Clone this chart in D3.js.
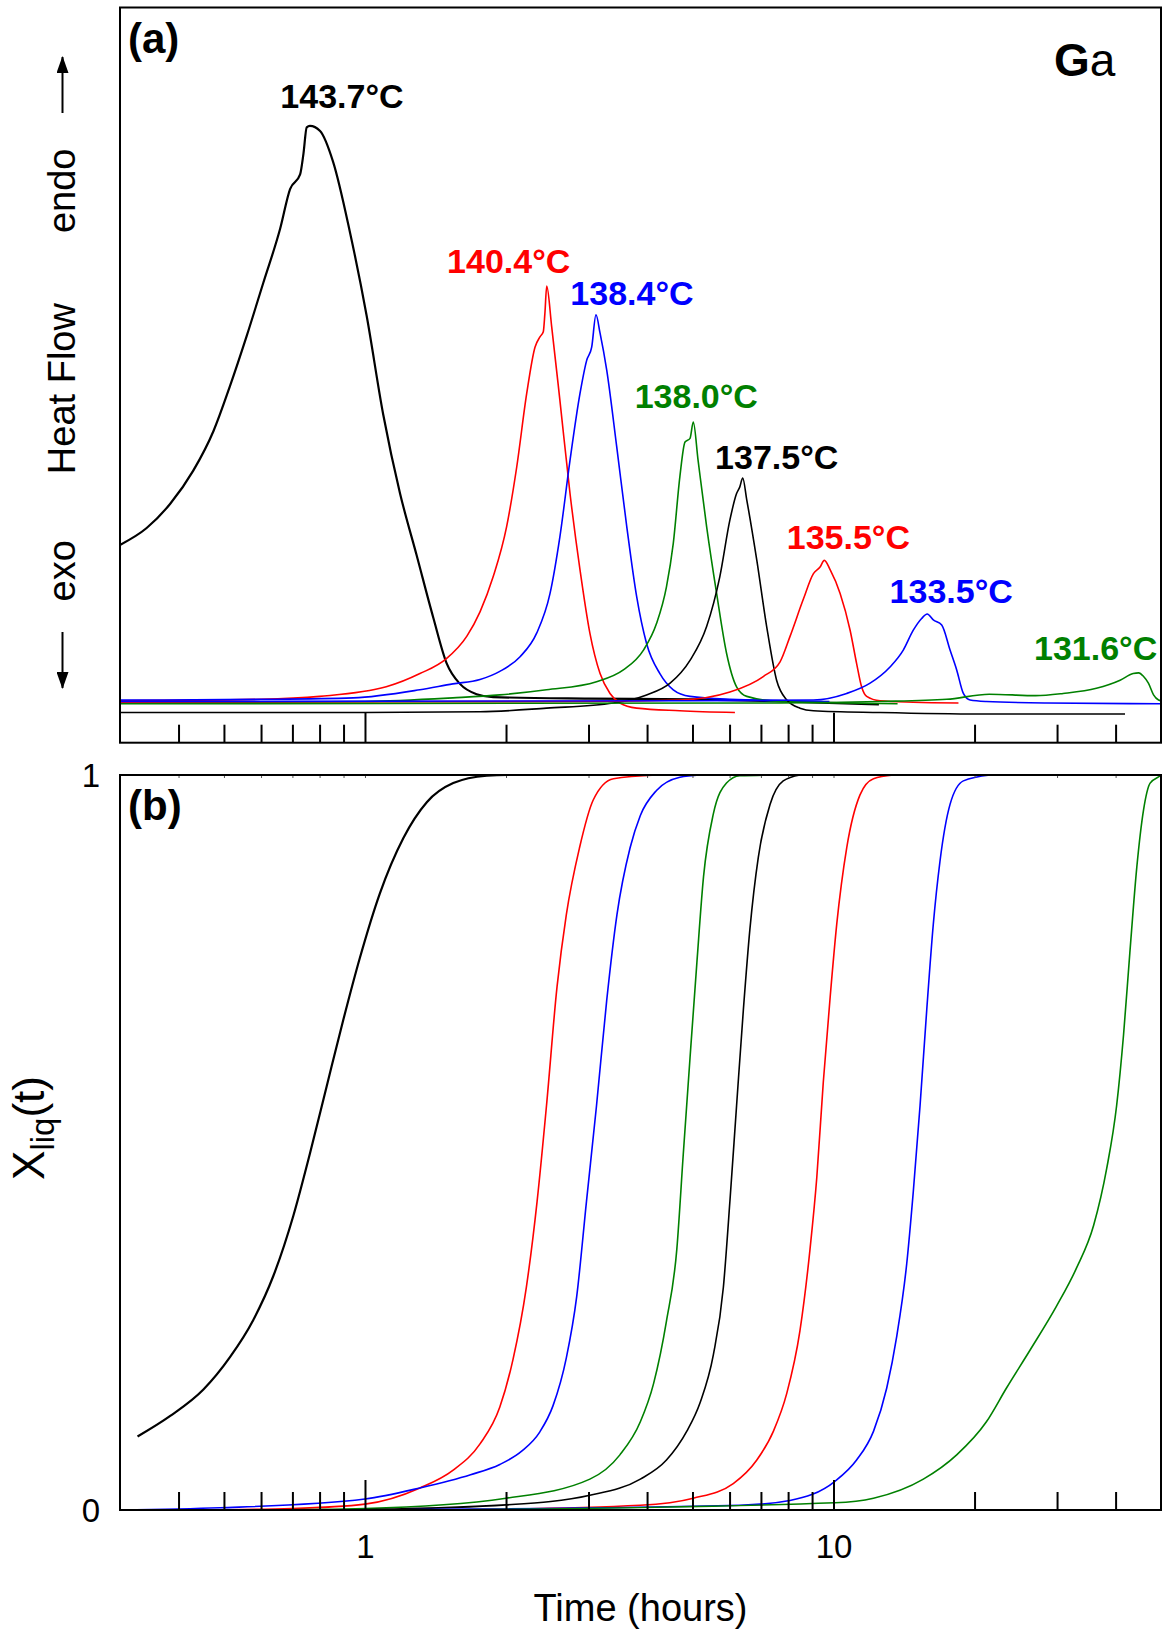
<!DOCTYPE html>
<html>
<head>
<meta charset="utf-8">
<script src="https://d3js.org/d3.v7.min.js"></script>
<style>
  body { margin: 0; background: #fff; }
  svg { display: block; font-family: "Liberation Sans", Arial, sans-serif; }
</style>
</head>
<body>
<div id="chart"></div>
<script>
// Heat flow traces, panel (a): [time in hours, heat flow (arb. units)]
var hf1437 = [[0.30, 26.9], [0.342, 29.2], [0.384, 32.5], [0.430, 37.0], [0.475, 42.4], [0.515, 48.5], [0.559, 55.3], [0.607, 62.6], [0.659, 69.9], [0.692, 75.3], [0.727, 77.3], [0.739, 80.1], [0.751, 83.7], [0.763, 83.9], [0.802, 83.2], [0.855, 79.0], [0.929, 69.4], [1.008, 58.1], [1.094, 44.6], [1.188, 33.9], [1.289, 25.5], [1.399, 17.0], [1.494, 10.8], [1.595, 8.0], [1.731, 6.6], [1.878, 6.2], [3.0, 6.0], [5.0, 5.9], [8.0, 5.6], [12.5, 5.2]];
var hf1404 = [[0.30, 5.7], [0.60, 5.9], [0.80, 6.3], [1.11, 7.6], [1.31, 9.4], [1.49, 11.4], [1.65, 14.5], [1.76, 17.8], [1.878, 22.6], [2.006, 29.4], [2.108, 37.5], [2.214, 47.5], [2.306, 53.8], [2.363, 55.2], [2.402, 55.9], [2.421, 58.4], [2.443, 62.1], [2.503, 56.6], [2.606, 46.6], [2.739, 33.9], [2.877, 23.5], [3.02, 14.9], [3.175, 9.4], [3.334, 6.7], [3.50, 5.4], [3.80, 4.7], [4.70, 4.35], [6.16, 4.1]];
var hf1384 = [[0.30, 5.8], [0.60, 5.9], [0.944, 6.1], [1.31, 7.2], [1.54, 8.0], [1.76, 8.6], [1.94, 9.7], [2.143, 11.7], [2.325, 14.9], [2.483, 20.3], [2.606, 28.0], [2.739, 38.4], [2.877, 47.5], [2.973, 52.0], [3.047, 53.8], [3.112, 58.2], [3.175, 55.7], [3.28, 50.7], [3.445, 40.3], [3.62, 29.4], [3.80, 19.9], [3.99, 13.5], [4.26, 9.4], [4.55, 7.2], [4.94, 6.3], [6.01, 5.9], [9.8, 5.6]];
var hf1380 = [[0.30, 5.4], [1.0, 5.6], [1.54, 6.1], [1.94, 6.5], [2.44, 7.2], [3.12, 8.3], [3.56, 9.9], [3.93, 12.6], [4.19, 16.2], [4.40, 21.2], [4.55, 27.1], [4.70, 36.2], [4.82, 40.9], [4.94, 41.4], [5.02, 43.6], [5.14, 38.4], [5.36, 29.4], [5.63, 20.3], [5.91, 12.2], [6.21, 7.6], [6.53, 6.3], [7.69, 5.6], [13.7, 5.3]];
var hf1375 = [[0.30, 4.1], [1.0, 4.1], [1.76, 4.2], [2.44, 4.7], [3.39, 5.4], [3.99, 6.5], [4.48, 8.1], [4.94, 11.2], [5.36, 15.8], [5.72, 22.6], [6.01, 30.3], [6.21, 33.9], [6.31, 34.8], [6.40, 36.0], [6.53, 33.0], [6.86, 24.8], [7.20, 15.8], [7.56, 8.5], [7.95, 5.8], [8.48, 4.7], [9.06, 4.35], [12.57, 4.1], [20.5, 3.9], [41.9, 3.9]];
var hf1355 = [[0.30, 5.5], [3.0, 5.6], [4.70, 5.8], [6.01, 6.9], [7.08, 9.0], [7.69, 11.0], [8.08, 14.5], [8.62, 19.5], [9.06, 23.0], [9.36, 23.9], [9.56, 24.8], [9.84, 23.5], [10.33, 20.3], [10.85, 15.3], [11.20, 10.8], [11.48, 7.6], [11.77, 6.3], [12.57, 5.7], [14.80, 5.5], [18.48, 5.4]];
var hf1335 = [[0.30, 5.6], [5.0, 5.7], [9.06, 5.8], [10.67, 6.7], [11.97, 8.1], [13.2, 10.3], [14.09, 12.6], [14.80, 15.3], [15.42, 16.9], [15.85, 17.5], [16.33, 16.7], [17.02, 16.0], [17.73, 12.6], [18.32, 9.9], [18.93, 6.7], [19.56, 5.8], [21.2, 5.6], [28.5, 5.4], [50, 5.3]];
var hf1316 = [[0.30, 5.3], [7.69, 5.4], [12.57, 5.6], [17.44, 5.9], [21.5, 6.6], [27.0, 6.4], [30.9, 6.7], [36.4, 7.4], [40.9, 8.5], [43.6, 9.4], [44.8, 9.5], [45.9, 9.0], [47.0, 8.1], [48.2, 6.5], [49.4, 5.8], [50, 5.7]];

// Liquid fraction, panel (b): [time in hours, X_liq]
var xl1437 = [[0.327, 0.100], [0.384, 0.128], [0.452, 0.164], [0.515, 0.208], [0.578, 0.259], [0.637, 0.318], [0.703, 0.400], [0.763, 0.485], [0.828, 0.576], [0.899, 0.667], [0.975, 0.751], [1.076, 0.839], [1.207, 0.914], [1.355, 0.963], [1.543, 0.989], [1.82, 0.999], [2.01, 1.0], [2.5, 1.0]];
var xl1404 = [[0.43, 0.0], [0.70, 0.002], [1.0, 0.008], [1.31, 0.030], [1.54, 0.054], [1.76, 0.090], [1.94, 0.140], [2.07, 0.205], [2.21, 0.303], [2.33, 0.420], [2.44, 0.550], [2.57, 0.712], [2.69, 0.810], [2.87, 0.901], [3.07, 0.966], [3.39, 0.995], [4.19, 1.0]];
var xl1384 = [[0.30, 0.0], [0.49, 0.003], [1.0, 0.015], [1.31, 0.030], [1.68, 0.048], [1.94, 0.062], [2.16, 0.080], [2.36, 0.106], [2.52, 0.142], [2.69, 0.207], [2.83, 0.290], [2.97, 0.420], [3.12, 0.550], [3.28, 0.693], [3.45, 0.810], [3.68, 0.901], [3.87, 0.945], [4.19, 0.979], [4.70, 0.997], [5.19, 1.0]];
var xl1380 = [[0.585, 0.0], [1.0, 0.002], [2.0, 0.016], [3.02, 0.042], [3.50, 0.075], [3.87, 0.120], [4.13, 0.172], [4.40, 0.257], [4.63, 0.355], [4.78, 0.485], [4.94, 0.615], [5.11, 0.745], [5.28, 0.862], [5.54, 0.947], [5.91, 0.989], [6.31, 0.999], [7.32, 1.0]];
var xl1375 = [[0.9, 0.0], [2.0, 0.007], [3.02, 0.020], [3.87, 0.042], [4.40, 0.068], [4.86, 0.107], [5.19, 0.146], [5.54, 0.211], [5.82, 0.303], [6.01, 0.420], [6.21, 0.550], [6.42, 0.680], [6.63, 0.790], [6.91, 0.888], [7.32, 0.960], [7.81, 0.992], [8.48, 1.0]];
var xl1355 = [[1.5, 0.0], [3.87, 0.0065], [5.02, 0.016], [6.11, 0.036], [6.86, 0.068], [7.44, 0.107], [7.95, 0.159], [8.48, 0.244], [8.91, 0.355], [9.21, 0.452], [9.51, 0.582], [9.84, 0.699], [10.16, 0.797], [10.67, 0.901], [11.39, 0.973], [12.17, 0.995], [13.42, 1.0]];
var xl1335 = [[1.0, 0.0], [6.31, 0.0065], [8.07, 0.013], [10.07, 0.039], [11.2, 0.068], [12.17, 0.107], [12.99, 0.166], [13.65, 0.237], [14.33, 0.335], [14.80, 0.433], [15.30, 0.550], [15.81, 0.680], [16.33, 0.797], [16.87, 0.882], [17.73, 0.960], [18.93, 0.992], [21.6, 1.0]];
var xl1316 = [[1.5, 0.0], [10.07, 0.0098], [12.17, 0.016], [15.55, 0.042], [18.32, 0.075], [21.2, 0.120], [23.4, 0.166], [26.3, 0.218], [29.9, 0.277], [33.0, 0.329], [35.9, 0.387], [38.3, 0.465], [40.2, 0.550], [41.6, 0.647], [42.9, 0.758], [44.4, 0.875], [45.9, 0.953], [47.4, 0.989], [49.8, 0.999], [50, 1.0]];

var peakLabels = ["143.7°C", "140.4°C", "138.4°C", "138.0°C", "137.5°C", "135.5°C", "133.5°C", "131.6°C"];
var heatFlow = [hf1437, hf1404, hf1384, hf1380, hf1375, hf1355, hf1335, hf1316];
var fraction = [xl1437, xl1404, xl1384, xl1380, xl1375, xl1355, xl1335, xl1316];

// Log time axis ticks
var minorTicks = [0.4, 0.5, 0.6, 0.7, 0.8, 0.9, 2, 3, 4, 5, 6, 7, 8, 9, 20, 30, 40];
var majorTicks = [1, 10];
var majorTickLabels = ["1", "10"];
var fractionTicks = [0, 1];

document.addEventListener('DOMContentLoaded', function() {
  var W = 1163, H = 1635;
  var left = 120, right = 1161;
  var topA = 7.5, bottomA = 742.7;
  var topB = 775, bottomB = 1510;

  var colors = ["#000", "#ff0000", "#0000ff", "#008000", "#000", "#ff0000", "#0000ff", "#008000"];
  var widths = [2.2, 1.6, 1.6, 1.6, 1.6, 1.6, 1.6, 1.6];
  // label offset from the peak top, in pixels
  var labelDx = [32, -38, 36, 3, 34, 24, 24, -43];
  var labelDy = [-17.6, -12.8, -10, -14, -9, -11, -11, -13];

  var svg = d3.select("#chart")
    .append("svg")
      .attr("width", W)
      .attr("height", H);

  var x = d3.scaleLog().domain([0.3, 50]).range([left, right]);
  var yA = d3.scaleLinear().domain([0, 100]).range([bottomA, topA]);
  var yB = d3.scaleLinear().domain([0, 1]).range([bottomB, topB]);

  var defs = svg.append("defs");
  defs.append("clipPath").attr("id", "clipA")
    .append("rect").attr("x", left).attr("y", topA).attr("width", right - left).attr("height", bottomA - topA);
  defs.append("clipPath").attr("id", "clipB")
    .append("rect").attr("x", left).attr("y", topB - 2).attr("width", right - left).attr("height", bottomB - topB + 2);

  // arrow heads for the endo / exo markers
  defs.append("marker")
    .attr("id", "head")
    .attr("viewBox", "0 0 17 12")
    .attr("refX", 16).attr("refY", 6)
    .attr("markerWidth", 17).attr("markerHeight", 12)
    .attr("markerUnits", "userSpaceOnUse")
    .attr("orient", "auto")
    .append("path").attr("d", "M0,0 L17,6 L0,12 Z").attr("fill", "#000");

  var lineA = d3.line()
    .x(function(d) { return x(d[0]); })
    .y(function(d) { return yA(d[1]); })
    .curve(d3.curveMonotoneX);
  var lineB = d3.line()
    .x(function(d) { return x(d[0]); })
    .y(function(d) { return yB(d[1]); })
    .curve(d3.curveMonotoneX);

  // Panel (a): heat flow curves
  svg.append("g").attr("clip-path", "url(#clipA)")
    .selectAll("path")
    .data(heatFlow)
    .enter()
    .append("path")
      .attr("d", lineA)
      .attr("fill", "none")
      .attr("stroke", function(d, i) { return colors[i]; })
      .attr("stroke-width", function(d, i) { return widths[i]; })
      .attr("stroke-linejoin", "round");

  // Peak temperature labels
  svg.append("g")
    .selectAll("text")
    .data(heatFlow)
    .enter()
    .append("text")
      .attr("x", function(d, i) {
        var p = d3.greatest(d, function(e) { return e[1]; });
        return x(p[0]) + labelDx[i];
      })
      .attr("y", function(d, i) {
        var p = d3.greatest(d, function(e) { return e[1]; });
        return yA(p[1]) + labelDy[i];
      })
      .attr("text-anchor", "middle")
      .attr("font-size", 34)
      .attr("font-weight", "bold")
      .attr("fill", function(d, i) { return colors[i]; })
      .text(function(d, i) { return peakLabels[i]; });

  // Panel (b): liquid fraction curves
  svg.append("g").attr("clip-path", "url(#clipB)")
    .selectAll("path")
    .data(fraction)
    .enter()
    .append("path")
      .attr("d", lineB)
      .attr("fill", "none")
      .attr("stroke", function(d, i) { return colors[i]; })
      .attr("stroke-width", function(d, i) { return widths[i]; })
      .attr("stroke-linejoin", "round");

  // Bottom axes with inward ticks
  var allTicks = minorTicks.concat(majorTicks);
  function drawAxis(yPos, withLabels) {
    var g = svg.append("g")
      .attr("transform", "translate(0," + yPos + ")")
      .call(d3.axisBottom(x).tickValues(allTicks).tickSize(-18).tickSizeOuter(0)
        .tickFormat(function(d) {
          var k = majorTicks.indexOf(d);
          return (withLabels && k >= 0) ? majorTickLabels[k] : "";
        }));
    g.select(".domain").remove();
    g.selectAll(".tick line")
      .attr("stroke", "#000")
      .attr("stroke-width", 2)
      .attr("y2", function(d) { return majorTicks.indexOf(d) >= 0 ? -30 : -18; });
    g.selectAll(".tick text")
      .attr("y", 48)
      .attr("dy", 0)
      .attr("font-size", 33)
      .attr("font-family", "Liberation Sans, Arial, sans-serif")
      .attr("fill", "#000");
    return g;
  }
  drawAxis(bottomA, false);
  drawAxis(bottomB, true);

  // tiny ticks along the top of panel (b)
  var topTicks = svg.append("g")
    .attr("transform", "translate(0," + topB + ")")
    .call(d3.axisTop(x).tickValues(allTicks).tickSize(-3).tickFormat(""));
  topTicks.select(".domain").remove();
  topTicks.selectAll(".tick line").attr("stroke", "#555").attr("stroke-width", 1);

  // Frames
  svg.append("rect")
    .attr("x", left).attr("y", topA).attr("width", right - left).attr("height", bottomA - topA)
    .attr("fill", "none").attr("stroke", "#000").attr("stroke-width", 2);
  svg.append("rect")
    .attr("x", left).attr("y", topB).attr("width", right - left).attr("height", bottomB - topB)
    .attr("fill", "none").attr("stroke", "#000").attr("stroke-width", 2);

  // Panel (b) y labels
  svg.append("g")
    .selectAll("text")
    .data(fractionTicks)
    .enter()
    .append("text")
      .attr("x", 100)
      .attr("y", function(d) { return yB(d); })
      .attr("dy", "0.36em")
      .attr("text-anchor", "end")
      .attr("font-size", 33)
      .text(function(d) { return d; });

  // Axis titles
  svg.append("text")
    .attr("x", (left + right) / 2)
    .attr("y", 1621)
    .attr("text-anchor", "middle")
    .attr("font-size", 38)
    .text("Time (hours)");

  var xl = svg.append("text")
    .attr("transform", "translate(44,1128) rotate(-90)")
    .attr("text-anchor", "middle")
    .attr("font-size", 44);
  xl.append("tspan").text("X");
  xl.append("tspan").attr("font-size", 33).attr("dy", 10).text("liq");
  xl.append("tspan").attr("dy", -10).text("(t)");

  // Heat flow title with endo / exo markers
  var hfTitles = [["endo", 190.8], ["Heat Flow", 388.6], ["exo", 570.8]];
  svg.append("g")
    .selectAll("text")
    .data(hfTitles)
    .enter()
    .append("text")
      .attr("transform", function(d) { return "translate(74.6," + d[1] + ") rotate(-90)"; })
      .attr("text-anchor", "middle")
      .attr("font-size", 38)
      .text(function(d) { return d[0]; });

  svg.append("line")
    .attr("x1", 62.5).attr("y1", 113).attr("x2", 62.5).attr("y2", 57)
    .attr("stroke", "#000").attr("stroke-width", 2).attr("marker-end", "url(#head)");
  svg.append("line")
    .attr("x1", 62.5).attr("y1", 632).attr("x2", 62.5).attr("y2", 688)
    .attr("stroke", "#000").attr("stroke-width", 2).attr("marker-end", "url(#head)");

  // Panel tags
  svg.append("text").attr("x", 128).attr("y", 53)
    .attr("font-size", 42).attr("font-weight", "bold").text("(a)");
  svg.append("text").attr("x", 128).attr("y", 820)
    .attr("font-size", 42).attr("font-weight", "bold").text("(b)");

  var ga = svg.append("text").attr("x", 1054).attr("y", 76).attr("font-size", 46);
  ga.append("tspan").attr("font-weight", "bold").text("G");
  ga.append("tspan").text("a");
});
</script>
</body>
</html>
